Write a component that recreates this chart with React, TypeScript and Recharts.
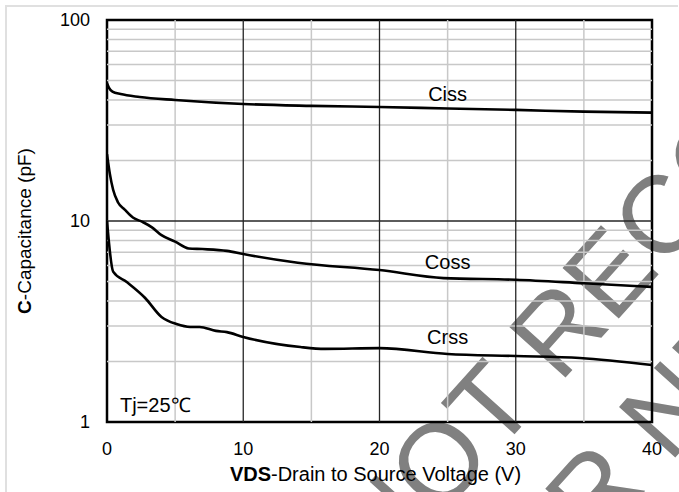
import React from "react";
import {
  LineChart,
  Line,
  XAxis,
  YAxis,
  ReferenceLine,
  ReferenceArea,
  ReferenceDot,
} from "recharts";

// Capacitance vs drain-source voltage, Tj = 25°C
const cissV = [0, 0.15, 0.4, 1, 2.4, 5, 10, 15, 20, 25, 30, 35, 40];
const cissC = [48.5, 46, 44, 42.8, 41.4, 40, 38.2, 37.4, 36.9, 36.3, 35.7, 35.0, 34.6];

const cossV = [0, 0.2, 0.45, 0.8, 1.3, 1.9, 2.6, 3.3, 4, 5, 6, 7, 8.8, 10, 14, 20, 24.7, 30, 35, 40];
const cossC = [21.5, 17.3, 14.3, 12.4, 11.4, 10.4, 9.9, 9.3, 8.5, 7.9, 7.3, 7.25, 7.1, 6.85, 6.2, 5.7, 5.2, 5.1, 4.9, 4.7];

const crssV = [0, 0.45, 1.45, 2.8, 4, 5.1, 6.1, 6.8, 8, 8.8, 10, 14.2, 16, 20, 25, 30, 34.7, 40];
const crssC = [10, 5.6, 4.97, 4.14, 3.33, 3.07, 2.97, 2.97, 2.84, 2.8, 2.65, 2.36, 2.31, 2.33, 2.18, 2.13, 2.08, 1.92];

const xTicks = [0, 10, 20, 30, 40];
const yTicks = [1, 10, 100];
const xMajorGrid = [10, 20, 30];
const xMinorGrid = [5, 15, 25, 35];
const yMajorGrid = [10];
const yMinorGrid = [2, 3, 4, 5, 6, 7, 8, 9, 20, 30, 40, 50, 60, 70, 80, 90];

const seriesLabels = [
  { name: "Ciss", v: 25, c: 42.8 },
  { name: "Coss", v: 25, c: 6.25 },
  { name: "Crss", v: 25, c: 2.65 },
];
const tempNote = "Tj=25℃";
const watermarkLines = ["NOT RECOMMENDED", "FOR NEW DESIGN"];

const FONT = "Arial, 'Liberation Sans', Helvetica, sans-serif";

const toPoints = (vs: number[], cs: number[]) => vs.map((v, i) => ({ v, c: cs[i] }));
const ciss = toPoints(cissV, cissC);
const coss = toPoints(cossV, cossC);
const crss = toPoints(crssV, crssC);

// diagonal status stamp, drawn under the curves
const Watermark = () => (
  <g
    transform="translate(385 578) rotate(-48)"
    fill="#808080"
    fontFamily={FONT}
    fontSize={110}
    style={{ pointerEvents: "none" }}
  >
    <text x={0} y={0}>{watermarkLines[0]}</text>
    <text x={12} y={135}>{watermarkLines[1]}</text>
  </g>
);

const XTitle = (props: any) => {
  const { viewBox } = props;
  const cx = viewBox.x + viewBox.width / 2;
  return (
    <text x={cx - 4} y={481} textAnchor="middle" fontFamily={FONT} fontSize={20} fill="#000">
      <tspan fontWeight="bold">VDS</tspan>
      <tspan>-Drain to Source Voltage (V)</tspan>
    </text>
  );
};

const YTitle = () => (
  <text
    x={31}
    y={231}
    transform="rotate(-90 31 231)"
    textAnchor="middle"
    fontFamily={FONT}
    fontSize={19}
    fill="#000"
  >
    <tspan fontWeight="bold">C</tspan>
    <tspan>-Capacitance (pF)</tspan>
  </text>
);

export default function App() {
  return (
    <div style={{ position: "absolute", left: 0, top: 0, width: 679, height: 492, background: "#fff" }}>
      <div
        style={{
          position: "absolute",
          left: 5,
          top: 5,
          width: 673,
          height: 500,
          borderTop: "2px solid #e0e0e0",
          borderLeft: "2px solid #e0e0e0",
          boxSizing: "border-box",
        }}
      />
      <div style={{ position: "absolute", left: 0, top: 0 }}>
        <LineChart width={679} height={492} margin={{ top: 20, right: 27, bottom: 0, left: 0 }}>
          <XAxis
            dataKey="v"
            type="number"
            domain={[0, 40]}
            ticks={xTicks}
            axisLine={false}
            tickLine={false}
            tickSize={0}
            tickMargin={20}
            height={70}
            tick={{ fontSize: 18, fontFamily: FONT, fill: "#000" }}
            label={<XTitle />}
            allowDataOverflow
          />
          <YAxis
            scale="log"
            domain={[1, 100]}
            ticks={yTicks}
            axisLine={false}
            tickLine={false}
            tickSize={0}
            tickMargin={17}
            width={107}
            tick={{ fontSize: 18, fontFamily: FONT, fill: "#000" }}
            allowDataOverflow
          />
          {yMinorGrid.map((y) => (
            <ReferenceLine key={`hy${y}`} y={y} stroke="#c8c8c8" strokeWidth={1.5} />
          ))}
          {xMinorGrid.map((x) => (
            <ReferenceLine key={`hx${x}`} x={x} stroke="#c8c8c8" strokeWidth={1.5} />
          ))}
          {yMajorGrid.map((y) => (
            <ReferenceLine key={`my${y}`} y={y} stroke="#262626" strokeWidth={1.3} />
          ))}
          {xMajorGrid.map((x) => (
            <ReferenceLine key={`mx${x}`} x={x} stroke="#262626" strokeWidth={1.3} />
          ))}
          <Watermark />
          <Line data={ciss} dataKey="c" type="monotone" stroke="#000" strokeWidth={2.6} dot={false} isAnimationActive={false} />
          <Line data={coss} dataKey="c" type="monotone" stroke="#000" strokeWidth={2.6} dot={false} isAnimationActive={false} />
          <Line data={crss} dataKey="c" type="monotone" stroke="#000" strokeWidth={2.6} dot={false} isAnimationActive={false} />
          <ReferenceArea x1={0} x2={40} y1={1} y2={100} fill="none" stroke="#000" strokeWidth={2.5} />
          {seriesLabels.map((s) => (
            <ReferenceDot
              key={s.name}
              x={s.v}
              y={s.c}
              r={0}
              fill="none"
              stroke="none"
              label={{ value: s.name, position: "center", fontSize: 20, fontFamily: FONT, fill: "#000" }}
            />
          ))}
          <ReferenceDot
            x={0.95}
            y={1.21}
            r={0}
            fill="none"
            stroke="none"
            label={{ value: tempNote, position: "right", offset: 0, fontSize: 20, fontFamily: FONT, fill: "#000" }}
          />
          <YTitle />
        </LineChart>
      </div>
    </div>
  );
}
